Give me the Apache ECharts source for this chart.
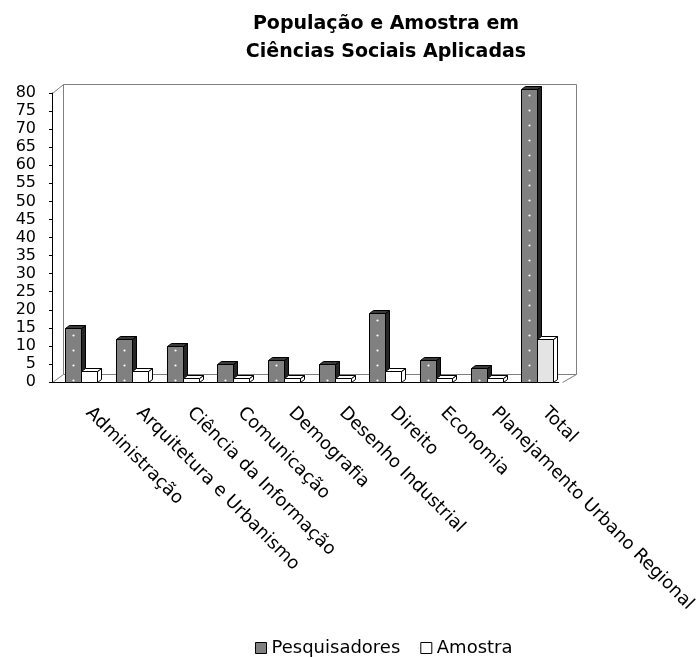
<!DOCTYPE html>
<html>
<head>
<meta charset="utf-8">
<script src="https://cdn.jsdelivr.net/npm/echarts@6/dist/echarts.min.js"></script>
<style>
  html, body { margin: 0; padding: 0; background: #fff; }
  #chart { width: 699px; height: 657px; }
</style>
</head>
<body>
<div id="chart"></div>
<script>
  var categories = ['Administração', 'Arquitetura e Urbanismo', 'Ciência da Informação', 'Comunicação',
    'Demografia', 'Desenho Industrial', 'Direito', 'Economia', 'Planejamento Urbano Regional', 'Total'];
  var pesquisadores = [15, 12, 10, 5, 6, 5, 19, 6, 4, 81];
  var amostra = [3, 3, 1, 1, 1, 1, 3, 1, 1, 12];
  var seriesNames = ['Pesquisadores', 'Amostra'];

  var FONT = '"DejaVu Sans", sans-serif';
  var BW = 16;      // largura da face frontal
  var DX = 4, DY = 3; // profundidade da barra

  function toData(arr) {
    return arr.map(function (v, i) { return [i, v]; });
  }

  // barra "3D": face frontal, topo e lateral
  function bar3d(offset, look) {
    return function (params, api) {
      var i = api.value(0);
      var base = api.coord([i, 0]);
      var head = api.coord([i, api.value(1)]);
      var x0 = Math.round(base[0] + offset) + 0.5, x1 = x0 + BW;
      var y0 = Math.round(base[1]) + 0.5, y1 = Math.round(head[1]) + 0.5;
      var front = look.front;
      if (look.lastFront && i === categories.length - 1) front = look.lastFront;
      var kids = [
        { type: 'polygon', shape: { points: [[x1, y0], [x1 + DX, y0 - DY], [x1 + DX, y1 - DY], [x1, y1]] },
          style: { fill: look.side, stroke: '#000', lineWidth: 1 } },
        { type: 'polygon', shape: { points: [[x0, y1], [x0 + DX, y1 - DY], [x1 + DX, y1 - DY], [x1, y1]] },
          style: { fill: look.top, stroke: '#000', lineWidth: 1 } },
        { type: 'rect', shape: { x: x0, y: y1, width: BW, height: y0 - y1 },
          style: { fill: front, stroke: '#000', lineWidth: 1 } }
      ];
      if (look.dots) {
        for (var y = y0 - 2; y > y1 + 2; y -= 15) {
          kids.push({ type: 'circle', shape: { cx: x0 + BW / 2, cy: y, r: 1.1 }, style: { fill: '#fff' } });
        }
      }
      return { type: 'group', children: kids };
    };
  }

  var chart = echarts.init(document.getElementById('chart'));

  var gray = '#808080';
  chart.setOption({
    animation: false,
    backgroundColor: '#fff',
    graphic: [
      { type: 'text', x: 386, y: 10, z: 10,
        style: { text: 'População e Amostra em\nCiências Sociais Aplicadas', textAlign: 'center',
          font: 'bold 19px ' + FONT, lineHeight: 28, fill: '#000' } },
      // parede do fundo e chão
      { type: 'polyline', z: 0, shape: { points: [[63.5, 374.5], [63.5, 84.5], [576.5, 84.5], [576.5, 374.5], [63.5, 374.5]] },
        style: { stroke: gray, lineWidth: 1, fill: null } },
      { type: 'line', z: 0, shape: { x1: 52.5, y1: 93.5, x2: 63.5, y2: 84.5 }, style: { stroke: gray, lineWidth: 1 } },
      { type: 'line', z: 0, shape: { x1: 52.5, y1: 382.5, x2: 63.5, y2: 374.5 }, style: { stroke: gray, lineWidth: 1 } },
      { type: 'line', z: 0, shape: { x1: 562.5, y1: 382.5, x2: 576.5, y2: 374.5 }, style: { stroke: gray, lineWidth: 1 } }
    ],
    legend: {
      left: 255,
      top: 639,
      padding: 0,
      icon: 'rect',
      itemWidth: 11,
      itemHeight: 11,
      itemGap: 20,
      textStyle: { fontFamily: FONT, fontSize: 18, color: '#000' },
      data: [
        { name: 'Pesquisadores', itemStyle: { color: gray, borderColor: '#000', borderWidth: 1 } },
        { name: 'Amostra', itemStyle: { color: '#fff', borderColor: '#000', borderWidth: 1 } }
      ]
    },
    grid: { left: 52, top: 93, width: 510, height: 289, containLabel: false },
    xAxis: {
      type: 'category',
      data: categories,
      axisLine: { lineStyle: { color: '#000', width: 1 } },
      axisTick: { length: 6, interval: 0, lineStyle: { color: '#000' } },
      axisLabel: { interval: 0, rotate: -45, margin: 17, padding: [0, 0, 0, 16],
        fontFamily: FONT, fontSize: 18, color: '#000' },
      splitLine: { show: false }
    },
    yAxis: {
      type: 'value',
      min: 0,
      max: 80,
      interval: 5,
      axisLine: { show: true, lineStyle: { color: '#000', width: 1 } },
      axisTick: { show: true, length: 3, lineStyle: { color: '#000' } },
      axisLabel: { margin: 16, fontFamily: FONT, fontSize: 16, color: '#000' },
      splitLine: { show: false }
    },
    series: [
      {
        name: seriesNames[0],
        type: 'custom',
        itemStyle: { color: gray, borderColor: '#000' },
        encode: { x: 0, y: 1 },
        renderItem: bar3d(-12, { front: gray, top: '#3a3a3a', side: '#262626', dots: true }),
        data: toData(pesquisadores)
      },
      {
        name: seriesNames[1],
        type: 'custom',
        itemStyle: { color: '#fff', borderColor: '#000' },
        encode: { x: 0, y: 1 },
        renderItem: bar3d(4, { front: '#fff', top: '#fff', side: '#fff', lastFront: '#e4e4e4' }),
        data: toData(amostra)
      }
    ]
  });
</script>
</body>
</html>
